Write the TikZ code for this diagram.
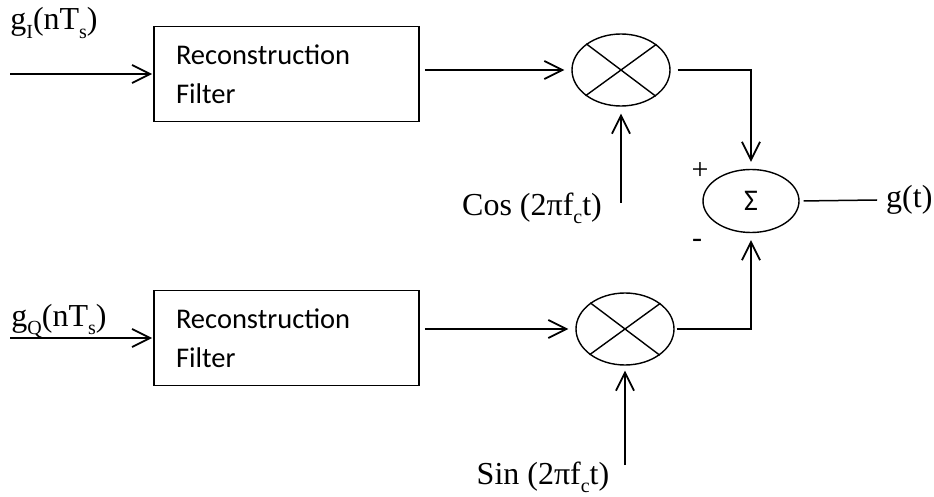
\documentclass[tikz,border=0pt]{standalone}
\usepackage{fontspec}
\setmainfont{Liberation Serif}
\newfontfamily\boxfont{Carlito}
\usetikzlibrary{arrows.meta,shapes.geometric}
% small lowered subscript for the signal labels
\newcommand\lowsub[1]{\raisebox{-0.28em}{\fontsize{20}{20}\selectfont #1}}

\begin{document}
\begin{tikzpicture}[x=1pt,y=-1pt,
  filterbox/.style={draw, line width=1.8pt, text width=221pt, inner xsep=22pt,
    inner ysep=0pt, minimum height=95pt, align=left,
    font=\boxfont\fontsize{28.5}{39}\selectfont},
  mixer/.style={draw, ellipse, line width=1.4pt, minimum width=98pt,
    minimum height=72pt, inner sep=0pt},
  adder/.style={draw, ellipse, line width=1.4pt, minimum width=96pt,
    minimum height=63pt, inner sep=0pt, font=\boxfont\fontsize{30}{30}\selectfont},
  lbl/.style={font=\fontsize{32}{38}\selectfont, inner sep=0pt},
  sgn/.style={font=\fontsize{30}{30}\selectfont, inner sep=0pt},
  sig/.style={line width=1.8pt, -{Straight Barb[length=18pt,width=18pt]}},
  wire/.style={line width=1.5pt},
  cross/.style={line width=1.4pt},
]
\useasboundingbox (0,0) rectangle (934,497);

% blocks
\node[filterbox] (f1) at (286.5,74) {Reconstruction\\Filter};
\node[filterbox] (f2) at (286.5,338) {Reconstruction\\Filter};
\node[mixer] (m1) at (621,70) {};
\node[mixer] (m2) at (625,329) {};
\node[adder] (sum) at (751,201) {Σ};

% multiplier crosses
\draw[cross] (m1.36.3) -- (m1.216.3) (m1.143.7) -- (m1.323.7);
\draw[cross] (m2.36.3) -- (m2.216.3) (m2.143.7) -- (m2.323.7);

% labels
\node[lbl] (gi) at (54,23) {g\lowsub{I}(nT\lowsub{s})};
\node[lbl] (gq) at (59,321) {g\lowsub{Q}(nT\lowsub{s})};
\node[lbl, anchor=base] (cos) at (532,215) {Cos (2πf\lowsub{c}t)};
\node[lbl, anchor=base] (sin) at (543,484) {Sin (2πf\lowsub{c}t)};
\node[lbl, anchor=west] (gt) at (886,200) {g(t)};
\node[sgn] (plus) at (700,171) {+};
\node[sgn] (minus) at (697,243) {-};

% free ends
\coordinate (inI) at (10,74);
\coordinate (inQ) at (10,338);
\coordinate (loI) at (621,203);
\coordinate (loQ) at (625,465);
\coordinate (out) at (877,200);

% in-phase branch
\draw[sig, shorten >=1pt] (inI) -- (f1.west);
\draw[sig, shorten <=5pt, shorten >=7pt] (f1.east |- m1.west) -- (m1.west);
\draw[sig, shorten >=7pt] (loI) -- (m1.south);
\draw[sig, shorten <=7pt, shorten >=7pt] (m1.east) -| (sum.north);

% quadrature branch
\draw[sig, shorten >=1pt] (inQ) -- (f2.west);
\draw[sig, shorten <=5pt, shorten >=7pt] (f2.east |- m2.west) -- (m2.west);
\draw[sig, shorten >=5pt] (loQ) -- (m2.south);
\draw[sig, shorten <=2pt, shorten >=7pt] (m2.east) -| (sum.south);

% output
\draw[wire, shorten <=4pt] (sum.east) -- (out);
\end{tikzpicture}
\end{document}
